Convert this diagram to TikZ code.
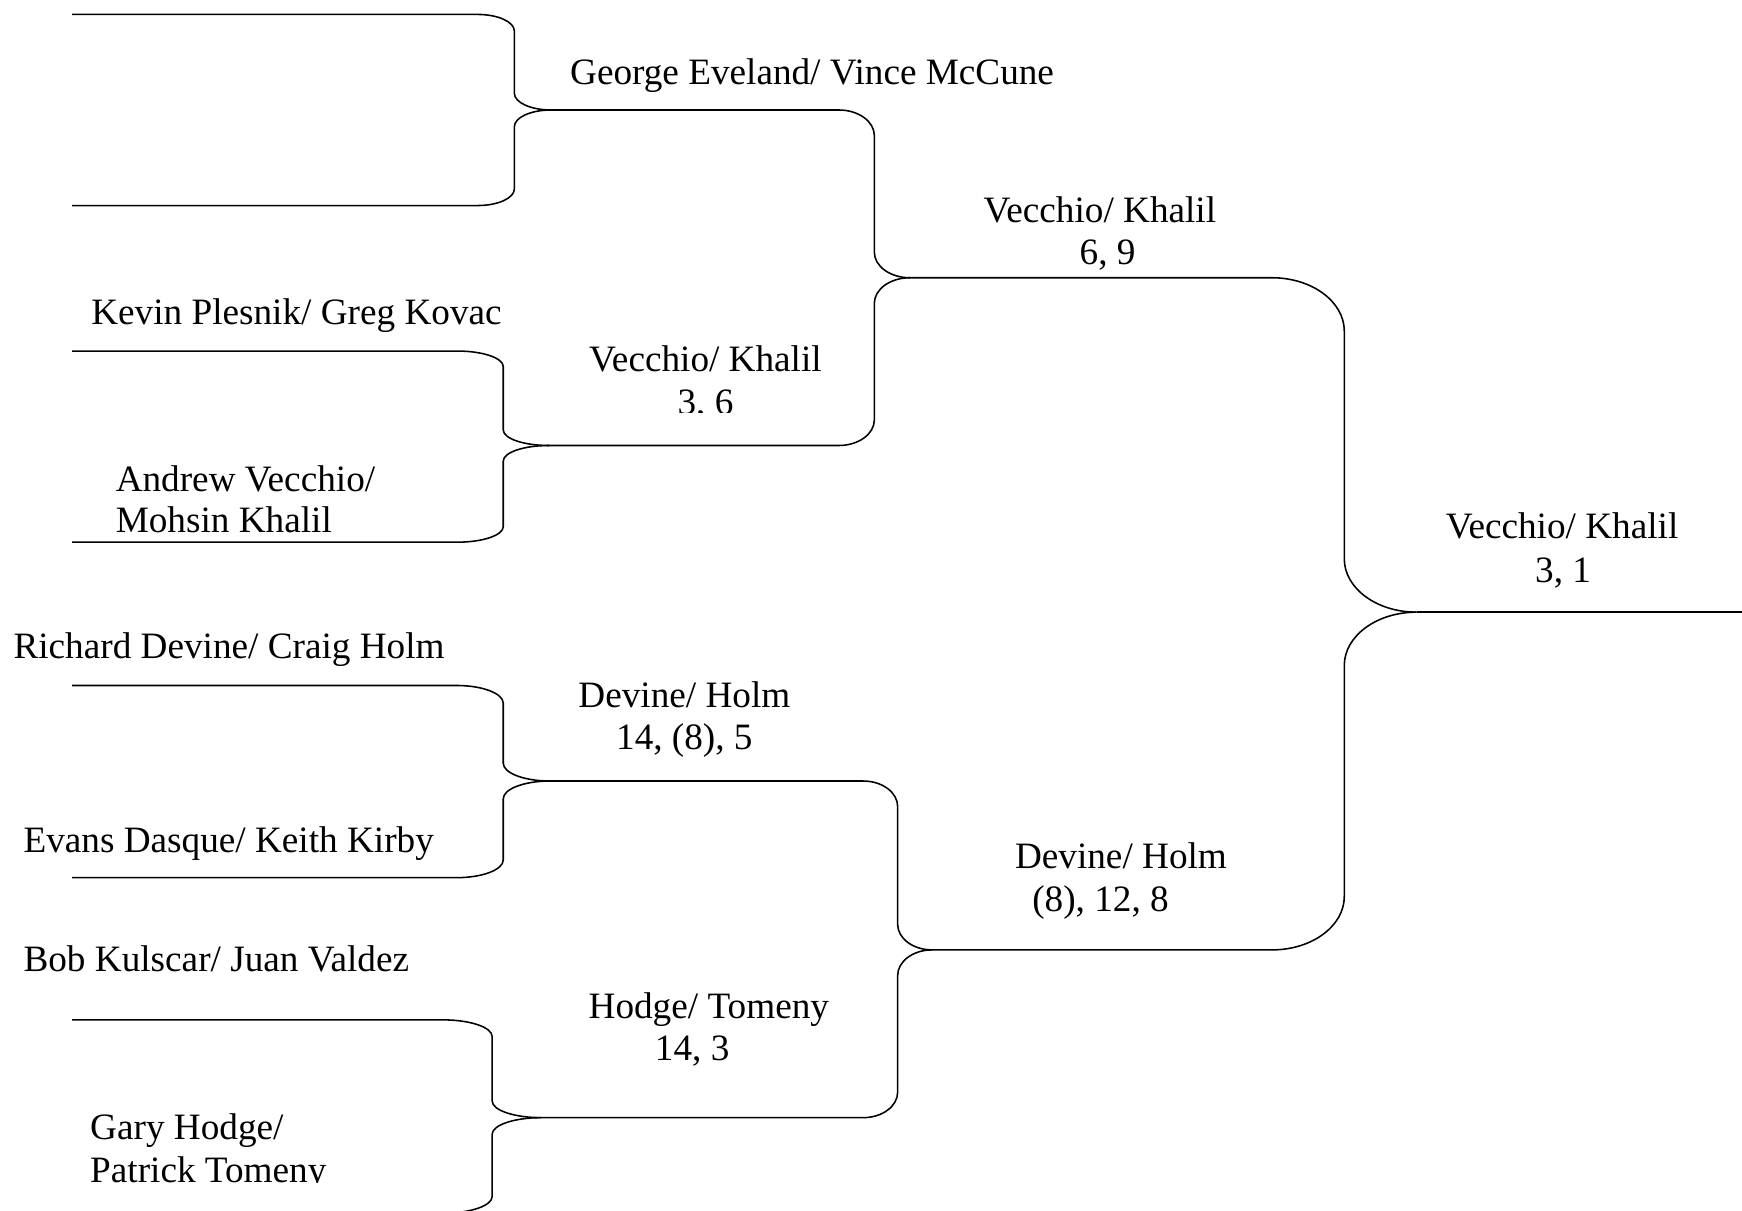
\documentclass[tikz,border=0pt]{standalone}
\usepackage{fontspec}
\setmainfont{Liberation Serif}
\newcommand{\brk}[8]{%
\draw[bline] (#1,#2) -- ({#5-#6},#2) .. controls ({#5-0.448*#6},#2) and (#5,{#2+0.448*#7}) .. (#5,{#2+#7}) -- (#5,{#8-#7}) .. controls (#5,{#8-0.448*#7}) and ({#5+0.448*#6},#8) .. ({#5+#6},#8);
\draw[bline] ({#5+#6},#8) .. controls ({#5+0.448*#6},#8) and (#5,{#8+0.448*#7}) .. (#5,{#8+#7}) -- (#5,{#4-#7}) .. controls (#5,{#4-0.448*#7}) and ({#5-0.448*#6},#4) .. ({#5-#6},#4) -- (#3,#4);
}
\begin{document}
\begin{tikzpicture}[x=1pt,y=-1pt,
  bline/.style={line width=1.4pt,line join=round},
  lbl/.style={inner sep=0pt,font=\fontsize{33.5}{38}\selectfont},
  lw/.style={lbl,anchor=base west},
  lc/.style={lbl,anchor=base}]
\useasboundingbox (0,0) rectangle (1568,1090);
\clip (0,0) rectangle (1568,1090);
% round 1
\brk{65}{13}{65}{185}{463}{33}{15}{99}
\brk{65}{316}{65}{488}{453}{41}{14}{401}
\brk{65}{617}{65}{790}{453}{42}{16}{703}
\brk{65}{918}{65}{1092}{443}{44}{15}{1006}
% round 2
\brk{496}{99}{494}{401}{787}{32}{23}{250}
\brk{495}{703}{487}{1006}{808}{31}{23}{855}
% round 3
\brk{819}{250}{839}{855}{1210}{65}{48}{551}
\coordinate (champ) at (1275,551);
\coordinate (champend) at (1568,551);
\draw[bline] (champ) -- (champend);
% labels
\node[lw] (t1) at (513,76) {George Eveland/ Vince McCune};
\node[lc] (t2) at (990,200) {Vecchio/ Khalil};
\node[lc] (t3) at (997,238) {6, 9};
\node[lw] (t4) at (82,292) {Kevin Plesnik/ Greg Kovac};
\node[lc] (t5) at (635,334) {Vecchio/ Khalil};
\begin{scope}
\clip (560,340) rectangle (720,371);
\node[lc] (t6) at (635,373) {3, 6};
\end{scope}
\node[lw] (t7) at (104,442) {Andrew Vecchio/};
\node[lw] (t8) at (104,479) {Mohsin Khalil};
\node[lc] (t9) at (1406,485) {Vecchio/ Khalil};
\node[lc] (t10) at (1407,524) {3, 1};
\node[lw] (t11) at (12,593) {Richard Devine/ Craig Holm};
\node[lc] (t12) at (616,637) {Devine/ Holm};
\node[lc] (t13) at (616,675) {14, (8), 5};
\node[lw] (t14) at (21,767) {Evans Dasque/ Keith Kirby};
\node[lc] (t15) at (1009,782) {Devine/ Holm};
\node[lw] (t16) at (929,820) {(8), 12, 8};
\node[lw] (t17) at (21,874) {Bob Kulscar/ Juan Valdez};
\node[lc] (t18) at (638,917) {Hodge/ Tomeny};
\node[lc] (t19) at (623,955) {14, 3};
\node[lw] (t20) at (81,1026) {Gary Hodge/};
\begin{scope}
\clip (60,1030) rectangle (400,1064);
\node[lw] (t21) at (81,1064) {Patrick Tomeny};
\end{scope}
\end{tikzpicture}
\end{document}
